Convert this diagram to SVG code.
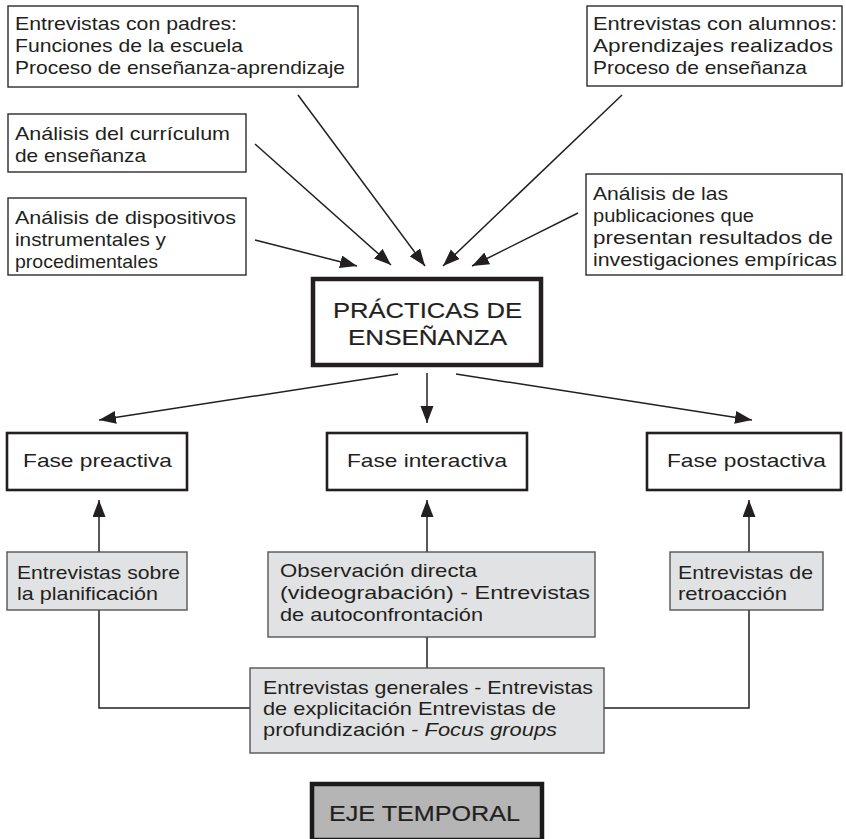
<svg xmlns="http://www.w3.org/2000/svg" width="846" height="839" viewBox="0 0 846 839">
  <style>
    text { font-family: "Liberation Sans", Arial, sans-serif; font-size: 18.5px; fill: #231f20; }
    .box { fill: #ffffff; stroke: #2b2b2b; stroke-width: 1.4; }
    .phase { fill: #ffffff; stroke: #231f20; stroke-width: 2.6; }
    .grey { fill: #e1e2e3; stroke: #555555; stroke-width: 1.4; }
    .main { fill: #ffffff; stroke: #231f20; stroke-width: 4.5; }
    .axis { fill: #b5b5b6; stroke: #1a1a1a; stroke-width: 4.5; }
    .title { font-size: 22px; stroke: #231f20; stroke-width: 0.2; }
    .link { fill: none; stroke: #231f20; stroke-width: 1.5; }
    .arrow { fill: none; stroke: #231f20; stroke-width: 1.5; marker-end: url(#head); }
  </style>
  <defs>
    <marker id="head" markerUnits="userSpaceOnUse" markerWidth="18" markerHeight="14" refX="17" refY="6.5" orient="auto">
      <path d="M0,0 L17,6.5 L0,13 z" fill="#231f20"/>
    </marker>
  </defs>

  <rect width="846" height="839" fill="#ffffff"/>

  <!-- connectors -->
  <g id="connectors">
    <line class="arrow" x1="255" y1="240" x2="357" y2="266"/>
    <line class="arrow" x1="255" y1="144" x2="391" y2="265"/>
    <line class="arrow" x1="298" y1="95" x2="425" y2="266"/>
    <line class="arrow" x1="622" y1="95" x2="443" y2="266"/>
    <line class="arrow" x1="578" y1="213" x2="472" y2="266"/>

    <line class="arrow" x1="398" y1="374" x2="99" y2="420"/>
    <line class="arrow" x1="427" y1="373" x2="427" y2="423"/>
    <line class="arrow" x1="456" y1="374" x2="752" y2="420"/>

    <line class="arrow" x1="99" y1="552" x2="99" y2="500"/>
    <line class="arrow" x1="427" y1="552" x2="427" y2="500"/>
    <line class="arrow" x1="749" y1="552" x2="749" y2="500"/>

    <polyline class="link" points="99,610 99,708 250,708"/>
    <line class="link" x1="427" y1="637" x2="427" y2="668"/>
    <polyline class="link" points="749,610 749,708 604,708"/>
  </g>

  <!-- sources feeding the teaching practices -->
  <g id="padres">
    <rect class="box" x="8" y="6" width="350" height="81"/>
    <text x="15" y="30" textLength="222" lengthAdjust="spacingAndGlyphs">Entrevistas con padres:</text>
    <text x="15" y="52" textLength="228" lengthAdjust="spacingAndGlyphs">Funciones de la escuela</text>
    <text x="15" y="74" textLength="330" lengthAdjust="spacingAndGlyphs">Proceso de enseñanza-aprendizaje</text>
  </g>
  <g id="curriculum">
    <rect class="box" x="8" y="114" width="238" height="58"/>
    <text x="15" y="140" textLength="215" lengthAdjust="spacingAndGlyphs">Análisis del currículum</text>
    <text x="15" y="162" textLength="131" lengthAdjust="spacingAndGlyphs">de enseñanza</text>
  </g>
  <g id="dispositivos">
    <rect class="box" x="8" y="198" width="238" height="77"/>
    <text x="15" y="224" textLength="221" lengthAdjust="spacingAndGlyphs">Análisis de dispositivos</text>
    <text x="15" y="246" textLength="151" lengthAdjust="spacingAndGlyphs">instrumentales y</text>
    <text x="15" y="268" textLength="143" lengthAdjust="spacingAndGlyphs">procedimentales</text>
  </g>
  <g id="alumnos">
    <rect class="box" x="587" y="6" width="255" height="80"/>
    <text x="593" y="30" textLength="244" lengthAdjust="spacingAndGlyphs">Entrevistas con alumnos:</text>
    <text x="593" y="52" textLength="240" lengthAdjust="spacingAndGlyphs">Aprendizajes realizados</text>
    <text x="593" y="74" textLength="214" lengthAdjust="spacingAndGlyphs">Proceso de enseñanza</text>
  </g>
  <g id="publicaciones">
    <rect class="box" x="586" y="174" width="256" height="101"/>
    <text x="593" y="200" textLength="135" lengthAdjust="spacingAndGlyphs">Análisis de las</text>
    <text x="593" y="222" textLength="161" lengthAdjust="spacingAndGlyphs">publicaciones que</text>
    <text x="593" y="244" textLength="240" lengthAdjust="spacingAndGlyphs">presentan resultados de</text>
    <text x="593" y="266" textLength="244" lengthAdjust="spacingAndGlyphs">investigaciones empíricas</text>
  </g>

  <!-- central node -->
  <g id="practicas">
    <rect class="main" x="313" y="279" width="228" height="86"/>
    <text class="title" x="333" y="318" textLength="189" lengthAdjust="spacingAndGlyphs">PRÁCTICAS DE</text>
    <text class="title" x="348" y="345" textLength="159" lengthAdjust="spacingAndGlyphs">ENSEÑANZA</text>
  </g>

  <!-- phases -->
  <g id="preactiva">
    <rect class="phase" x="7" y="433" width="180" height="57"/>
    <text x="23" y="467" textLength="149" lengthAdjust="spacingAndGlyphs">Fase preactiva</text>
  </g>
  <g id="interactiva">
    <rect class="phase" x="327" y="433" width="200" height="57"/>
    <text x="347" y="467" textLength="160" lengthAdjust="spacingAndGlyphs">Fase interactiva</text>
  </g>
  <g id="postactiva">
    <rect class="phase" x="647" y="433" width="194" height="57"/>
    <text x="667" y="467" textLength="159" lengthAdjust="spacingAndGlyphs">Fase postactiva</text>
  </g>

  <!-- data collection techniques -->
  <g id="planificacion">
    <rect class="grey" x="7" y="552" width="180" height="58"/>
    <text x="17" y="579" textLength="163" lengthAdjust="spacingAndGlyphs">Entrevistas sobre</text>
    <text x="17" y="600" textLength="141" lengthAdjust="spacingAndGlyphs">la planificación</text>
  </g>
  <g id="observacion">
    <rect class="grey" x="268" y="552" width="327" height="85"/>
    <text x="280" y="577" textLength="197" lengthAdjust="spacingAndGlyphs">Observación directa</text>
    <text x="280" y="599" textLength="310" lengthAdjust="spacingAndGlyphs">(videograbación) - Entrevistas</text>
    <text x="280" y="621" textLength="203" lengthAdjust="spacingAndGlyphs">de autoconfrontación</text>
  </g>
  <g id="retroaccion">
    <rect class="grey" x="670" y="552" width="153" height="58"/>
    <text x="678" y="579" textLength="135" lengthAdjust="spacingAndGlyphs">Entrevistas de</text>
    <text x="678" y="600" textLength="109" lengthAdjust="spacingAndGlyphs">retroacción</text>
  </g>
  <g id="generales">
    <rect class="grey" x="250" y="668" width="354" height="85"/>
    <text x="263" y="694" textLength="330" lengthAdjust="spacingAndGlyphs">Entrevistas generales - Entrevistas</text>
    <text x="263" y="715" textLength="293" lengthAdjust="spacingAndGlyphs">de explicitación Entrevistas de</text>
    <text x="263" y="736" textLength="294" lengthAdjust="spacingAndGlyphs">profundización - <tspan font-style="italic">Focus groups</tspan></text>
  </g>

  <!-- time axis -->
  <g id="eje">
    <rect class="axis" x="312" y="784" width="230" height="56"/>
    <text class="title" x="329" y="821" textLength="191" lengthAdjust="spacingAndGlyphs">EJE TEMPORAL</text>
  </g>
</svg>
